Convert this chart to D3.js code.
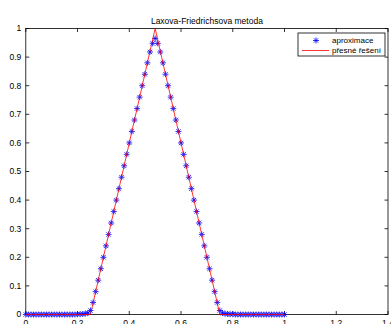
<!DOCTYPE html>
<html>
<head>
<meta charset="utf-8">
<script src="https://cdnjs.cloudflare.com/ajax/libs/d3/7.8.5/d3.min.js"></script>
<style>
  body { margin: 0; background: #fff; }
  svg { display: block; font-family: "Liberation Sans", Arial, sans-serif; }
</style>
</head>
<body>
<div id="chart"></div>
<script>
// chart data
var title = "Laxova-Friedrichsova metoda";
var seriesNames = ["aproximace", "přesné řešení"];
var xTicks = [0, 0.2, 0.4, 0.6, 0.8, 1, 1.2, 1.4];
var yTicks = [0, 0.1, 0.2, 0.3, 0.4, 0.5, 0.6, 0.7, 0.8, 0.9, 1];

// grid points of the numerical solution
var approxX = [
  0.00, 0.01, 0.02, 0.03, 0.04, 0.05, 0.06, 0.07, 0.08, 0.09,
  0.10, 0.11, 0.12, 0.13, 0.14, 0.15, 0.16, 0.17, 0.18, 0.19,
  0.20, 0.21, 0.22, 0.23, 0.24, 0.25, 0.26, 0.27, 0.28, 0.29,
  0.30, 0.31, 0.32, 0.33, 0.34, 0.35, 0.36, 0.37, 0.38, 0.39,
  0.40, 0.41, 0.42, 0.43, 0.44, 0.45, 0.46, 0.47, 0.48, 0.49,
  0.50, 0.51, 0.52, 0.53, 0.54, 0.55, 0.56, 0.57, 0.58, 0.59,
  0.60, 0.61, 0.62, 0.63, 0.64, 0.65, 0.66, 0.67, 0.68, 0.69,
  0.70, 0.71, 0.72, 0.73, 0.74, 0.75, 0.76, 0.77, 0.78, 0.79,
  0.80, 0.81, 0.82, 0.83, 0.84, 0.85, 0.86, 0.87, 0.88, 0.89,
  0.90, 0.91, 0.92, 0.93, 0.94, 0.95, 0.96, 0.97, 0.98, 0.99,
  1.00
];
var approxY = [
  0, 0, 0, 0, 0, 0, 0, 0, 0, 0,
  0, 0, 0, 0, 0, 0, 0, 0, 0, 0,
  0.001, 0.001, 0.002, 0.003, 0.005, 0.014, 0.042, 0.08, 0.12, 0.16,
  0.20, 0.24, 0.28, 0.32, 0.36, 0.40, 0.44, 0.48, 0.52, 0.56,
  0.60, 0.64, 0.68, 0.72, 0.76, 0.80, 0.84, 0.88, 0.918, 0.948,
  0.965, 0.948, 0.918, 0.88, 0.84, 0.80, 0.76, 0.72, 0.68, 0.64,
  0.60, 0.56, 0.52, 0.48, 0.44, 0.40, 0.36, 0.32, 0.28, 0.24,
  0.20, 0.16, 0.12, 0.08, 0.042, 0.014, 0.005, 0.003, 0.002, 0.001,
  0.001, 0, 0, 0, 0, 0, 0, 0, 0, 0,
  0, 0, 0, 0, 0, 0, 0, 0, 0, 0,
  0
];

// exact solution (tent profile)
var exactX = [0, 0.25, 0.5, 0.75, 1];
var exactY = [0, 0, 1, 0, 0];

var width = 391, height = 324;
var margin = {top: 28.5, right: 3, bottom: 9.5, left: 25.8};

var svg = d3.select("#chart")
    .append("svg")
    .attr("width", width)
    .attr("height", height);

var x = d3.scaleLinear()
    .domain([0, 1.4])
    .range([margin.left, width - margin.right]);

var y = d3.scaleLinear()
    .domain([0, 1])
    .range([height - margin.bottom, margin.top]);

var x0 = x.range()[0], x1 = x.range()[1],
    y0 = y.range()[0], y1 = y.range()[1];
var tickLen = 3.5;

// axes box
svg.append("rect")
    .attr("x", x0).attr("y", y1)
    .attr("width", x1 - x0).attr("height", y0 - y1)
    .attr("fill", "#fff")
    .attr("stroke", "#000")
    .attr("stroke-width", 0.8);

var ticks = svg.append("g")
    .attr("stroke", "#000")
    .attr("stroke-width", 0.8);

// x ticks, bottom and top, pointing inward
xTicks.forEach(function(t) {
    ticks.append("line")
        .attr("x1", x(t)).attr("x2", x(t))
        .attr("y1", y0).attr("y2", y0 - tickLen);
    ticks.append("line")
        .attr("x1", x(t)).attr("x2", x(t))
        .attr("y1", y1).attr("y2", y1 + tickLen);
});

// y ticks, left and right
yTicks.forEach(function(t) {
    ticks.append("line")
        .attr("x1", x0).attr("x2", x0 + tickLen)
        .attr("y1", y(t)).attr("y2", y(t));
    ticks.append("line")
        .attr("x1", x1).attr("x2", x1 - tickLen)
        .attr("y1", y(t)).attr("y2", y(t));
});

// tick labels
svg.append("g")
    .selectAll("text")
    .data(xTicks)
    .enter()
    .append("text")
    .attr("x", function(d) { return x(d); })
    .attr("y", y0 + 11)
    .attr("text-anchor", "middle")
    .attr("font-size", "8.5px")
    .text(function(d) { return d3.format("~g")(d); });

svg.append("g")
    .selectAll("text")
    .data(yTicks)
    .enter()
    .append("text")
    .attr("x", x0 - 4.5)
    .attr("y", function(d) { return y(d); })
    .attr("dy", "0.35em")
    .attr("text-anchor", "end")
    .attr("font-size", "8.5px")
    .text(function(d) { return d3.format("~g")(d); });

// title
svg.append("text")
    .attr("x", (x0 + x1) / 2)
    .attr("y", 23.5)
    .attr("text-anchor", "middle")
    .attr("font-size", "8.5px")
    .text(title);

// star marker (MATLAB style '*': plus + cross)
function starPath(cx, cy, r) {
    var d = r * 0.72;
    return "M" + (cx - r) + "," + cy + "H" + (cx + r) +
        "M" + cx + "," + (cy - r) + "V" + (cy + r) +
        "M" + (cx - d) + "," + (cy - d) + "L" + (cx + d) + "," + (cy + d) +
        "M" + (cx - d) + "," + (cy + d) + "L" + (cx + d) + "," + (cy - d);
}

// approximation points
svg.append("g")
    .selectAll("path")
    .data(approxX)
    .enter()
    .append("path")
    .attr("d", function(d, i) { return starPath(x(d), y(approxY[i]), 3); })
    .attr("fill", "none")
    .attr("stroke", "#0000ff")
    .attr("stroke-width", 0.8);

// exact solution line
var line = d3.line()
    .x(function(d) { return x(d[0]); })
    .y(function(d) { return y(d[1]); });

svg.append("path")
    .datum(exactX.map(function(d, i) { return [d, exactY[i]]; }))
    .attr("d", line)
    .attr("fill", "none")
    .attr("stroke", "#ff0000")
    .attr("stroke-width", 0.8);

// legend
var legend = svg.append("g")
    .attr("transform", "translate(298, 33)");

legend.append("rect")
    .attr("width", 87)
    .attr("height", 23)
    .attr("fill", "#fff")
    .attr("stroke", "#000")
    .attr("stroke-width", 0.8);

legend.append("path")
    .attr("d", starPath(18, 7.5, 3))
    .attr("fill", "none")
    .attr("stroke", "#0000ff")
    .attr("stroke-width", 0.8);

legend.append("line")
    .attr("x1", 4).attr("x2", 31)
    .attr("y1", 17.5).attr("y2", 17.5)
    .attr("stroke", "#ff0000")
    .attr("stroke-width", 0.8);

legend.selectAll("text")
    .data(seriesNames)
    .enter()
    .append("text")
    .attr("x", 34)
    .attr("y", function(d, i) { return 7.5 + i * 10; })
    .attr("dy", "0.35em")
    .attr("font-size", "8px")
    .text(function(d) { return d; });
</script>
</body>
</html>
